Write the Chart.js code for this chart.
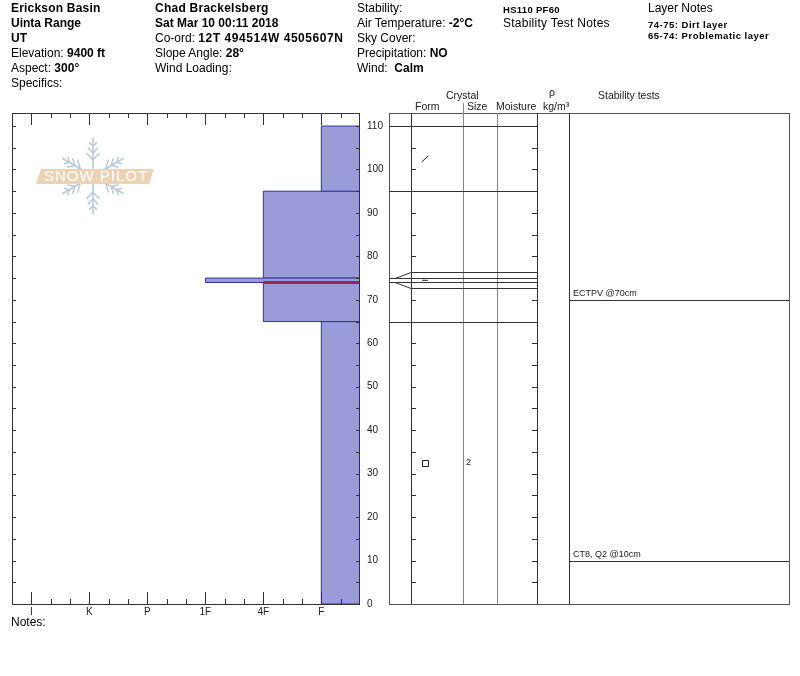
<!DOCTYPE html>
<html>
<head>
<meta charset="utf-8">
<script src="https://cdn.jsdelivr.net/npm/chart.js@4.4.1/dist/chart.umd.min.js"></script>
<style>
body{margin:0;background:#fff;}
#page{position:relative;width:800px;height:676px;overflow:hidden;font-family:"Liberation Sans",Arial,sans-serif;color:#000;}
#page canvas{position:absolute;top:0;}
.t{position:absolute;font-size:12px;line-height:15px;white-space:nowrap;z-index:2;}
.n{position:absolute;font-size:9.5px;line-height:11px;font-weight:bold;letter-spacing:0.5px;white-space:nowrap;z-index:2;}
.h{position:absolute;font-size:10.5px;line-height:12px;white-space:nowrap;color:#222;z-index:2;}
</style>
</head>
<body>
<div id="page">
  <div class="t" style="left:11px;top:1px"><b style="letter-spacing:0.2px">Erickson Basin</b><br><b>Uinta Range</b><br><b>UT</b><br>Elevation: <b>9400 ft</b><br>Aspect: <b>300°</b><br>Specifics:</div>
  <div class="t" style="left:155px;top:1px"><b style="letter-spacing:0.25px">Chad Brackelsberg</b><br><b>Sat Mar 10 00:11 2018</b><br>Co-ord: <b style="letter-spacing:0.55px">12T 494514W 4505607N</b><br>Slope Angle: <b>28°</b><br>Wind Loading:</div>
  <div class="t" style="left:357px;top:1px">Stability:<br>Air Temperature: <b>-2°C</b><br>Sky Cover:<br>Precipitation: <b>NO</b><br>Wind:&nbsp; <b>Calm</b></div>
  <div class="n" style="left:503px;top:4px;letter-spacing:0.3px">HS110 PF60</div>
  <div class="t" style="left:503px;top:16px;letter-spacing:0.25px">Stability Test Notes</div>
  <div class="t" style="left:648px;top:1px">Layer Notes</div>
  <div class="n" style="left:648px;top:19px">74-75: Dirt layer</div>
  <div class="n" style="left:648px;top:30px">65-74: Problematic layer</div>

  <div class="h" style="left:446px;top:89px">Crystal</div>
  <div class="h" style="left:415px;top:100px">Form</div>
  <div class="h" style="left:467px;top:100px">Size</div>
  <div class="h" style="left:496px;top:100px">Moisture</div>
  <div class="h" style="left:549px;top:86px">ρ</div>
  <div class="h" style="left:543px;top:100px">kg/m³</div>
  <div class="h" style="left:598px;top:89px">Stability tests</div>

  <div class="t" style="left:11px;top:615px">Notes:</div>

  <canvas id="hardness" width="400" height="676" style="left:0"></canvas>
  <canvas id="layers" width="420" height="676" style="left:380px"></canvas>
</div>
<script>
// ── Data ─────────────────────────────────────────────────────────────────────
const HARDNESS = ['I','K','P','1F','4F','F'];
const layerTop      = [110, 95, 75, 74, 65];
const layerBottom   = [ 95, 75, 74, 65,  0];
const layerHardness = ['F','4F','1F','4F','F'];
const layerForm     = ['DF','', 'IF','', 'FC'];
const layerSize     = ['', '', '', '', '2'];
const criticalHeight   = 74;
const criticalHardness = '4F';
const testHeights = [70, 10];
const testLabels  = ['ECTPV @70cm', 'CT8, Q2 @10cm'];
const HEIGHT_MAX = 113;

// ── Style ────────────────────────────────────────────────────────────────────
const X_MIN = -1/3, X_MAX = 17/3;
const FILL = '#9b9bd9', EDGE = '#34349c', CRIT = '#a3205c';
const LINE = '#333', GREY = '#888';
const FONT = '"Liberation Sans", Arial, sans-serif';
const hIdx = h => HARDNESS.indexOf(h);
const crisp = v => Math.round(v) + 0.5;

// ── Hardness profile ────────────────────────────────────────────────────────
const layerSets = layerTop.map((top,i)=>{
  const h = hIdx(layerHardness[i]), b = layerBottom[i];
  return {
    data:[{x:h,y:b},{x:h,y:top},{x:X_MAX,y:top},{x:X_MAX,y:b},{x:h,y:b}],
    showLine:true, fill:'shape', backgroundColor:FILL, borderColor:EDGE, borderWidth:1,
    pointRadius:0, tension:0, order:(top-b)<3?0:1,
  };
});
const critSet = {
  data:[{x:hIdx(criticalHardness),y:criticalHeight},{x:X_MAX,y:criticalHeight}],
  showLine:true, fill:false, borderColor:CRIT, borderWidth:3, pointRadius:0, order:-1,
};

// SnowPilot watermark
function drawLogo(ctx){
  const cx=93, cy=176;
  ctx.save();
  ctx.strokeStyle='#bac9d5'; ctx.lineWidth=1.5; ctx.lineCap='round';
  for (let a=0;a<6;a++){
    const ang = Math.PI/2 + a*Math.PI/3, R = a%3===0?38:35;
    const ux=Math.cos(ang), uy=-Math.sin(ang);
    ctx.beginPath(); ctx.moveTo(cx+ux*8,cy+uy*8); ctx.lineTo(cx+ux*R,cy+uy*R); ctx.stroke();
    [0.42,0.6,0.78].forEach((f,j)=>{
      const px=cx+ux*R*f, py=cy+uy*R*f, L=9-j*2;
      [1,-1].forEach(s=>{
        const a2=ang+s*0.75;
        ctx.beginPath(); ctx.moveTo(px,py); ctx.lineTo(px+Math.cos(a2)*L,py-Math.sin(a2)*L); ctx.stroke();
      });
    });
  }
  ctx.fillStyle='#ecd3b6';
  ctx.beginPath(); ctx.moveTo(41,169); ctx.lineTo(154,169); ctx.lineTo(149,184); ctx.lineTo(36,184); ctx.closePath(); ctx.fill();
  ctx.font='15px '+FONT; ctx.textAlign='center'; ctx.textBaseline='middle';
  ctx.letterSpacing='1px';
  ctx.fillStyle='#ffffff';
  ctx.fillText('SNOW PILOT',96,177);
  ctx.restore();
}

const hardnessFrame = {
  id:'hardnessFrame',
  beforeDatasetsDraw(chart){ drawLogo(chart.ctx); },
  afterDatasetsDraw(chart){
    const {ctx, chartArea:{left,right,top,bottom}, scales:{x,y}} = chart;
    ctx.save();
    ctx.strokeStyle=LINE; ctx.lineWidth=1;
    ctx.strokeRect(crisp(left), crisp(top), Math.round(right-left)-1, Math.round(bottom-top));
    ctx.beginPath();
    y.ticks.forEach(t=>{
      const py=crisp(y.getPixelForValue(t.value));
      ctx.moveTo(left,py); ctx.lineTo(left+4,py);
      ctx.moveTo(right-4,py); ctx.lineTo(right,py);
    });
    x.ticks.forEach(t=>{
      const px=crisp(x.getPixelForValue(t.value));
      const len = Math.round(t.value*3)%3===0 ? 12 : 5;
      ctx.moveTo(px,top); ctx.lineTo(px,top+len);
      ctx.moveTo(px,bottom); ctx.lineTo(px,bottom-len);
    });
    ctx.stroke();
    ctx.restore();
  }
};

new Chart(document.getElementById('hardness'), {
  type:'scatter',
  data:{ datasets:[...layerSets, critSet] },
  options:{
    responsive:false, animation:false, devicePixelRatio:1,
    layout:{ padding:{ left:12, top:113, right:0, bottom:52 } },
    plugins:{ legend:{display:false}, tooltip:{enabled:false} },
    scales:{
      x:{ type:'linear', min:X_MIN, max:X_MAX,
          afterBuildTicks:s=>{ s.ticks=Array.from({length:17},(_,k)=>({value:k/3})); },
          afterFit:s=>{ s.height=20; },
          grid:{display:false, drawTicks:false}, border:{display:false},
          ticks:{ autoSkip:false, maxRotation:0, padding:2, color:'#222', font:{family:FONT,size:10},
                  callback:v=>{ const k=Math.round(v*3); return k%3===0 ? HARDNESS[k/3] : ''; } } },
      y:{ type:'linear', position:'right', min:0, max:HEIGHT_MAX,
          afterFit:s=>{ s.width=40; },
          grid:{display:false, drawTicks:false}, border:{display:false},
          ticks:{ stepSize:5, includeBounds:false, autoSkip:false, padding:7, color:'#222', font:{family:FONT,size:10},
                  callback:v=> v%10===0 ? v : '' } },
    },
  },
  plugins:[hardnessFrame],
});

// ── Layer table ─────────────────────────────────────────────────────────────
const COLS = [0, 22, 74, 108, 148, 180, 400];   // table column offsets (px)
const MIN_LAYER_PX = 16;

function drawSymbol(ctx, form, cx, cy){
  ctx.beginPath();
  if (form==='DF'){ ctx.moveTo(cx-3.5,cy+3.5); ctx.lineTo(cx+3.5,cy-3); }
  else if (form==='IF'){ ctx.moveTo(cx-3,cy); ctx.lineTo(cx+3,cy); }
  else if (form==='FC'){ ctx.rect(Math.round(cx-3)+0.5, Math.round(cy-3)+0.5, 6, 6); }
  ctx.stroke();
}

const layerTable = {
  id:'layerTable',
  afterDraw(chart){
    const {ctx, chartArea:{left,right,top,bottom}, scales:{y}} = chart;
    const X = c => left + COLS[c];
    ctx.save(); ctx.lineWidth=1;

    // display positions (thin layers expanded)
    const disp = layerTop.map((t,i)=>{
      let pt=y.getPixelForValue(t), pb=y.getPixelForValue(layerBottom[i]);
      if (pb-pt < MIN_LAYER_PX){ const c=(pt+pb)/2; pt=c-MIN_LAYER_PX/2; pb=c+MIN_LAYER_PX/2; }
      return {pt,pb};
    });

    // frame and columns
    ctx.strokeStyle='#555';
    ctx.strokeRect(crisp(left), crisp(top), Math.round(right-left), Math.round(bottom-top));
    ctx.beginPath();
    [1,4,5].forEach(c=>{ ctx.moveTo(crisp(X(c)),top); ctx.lineTo(crisp(X(c)),bottom); });
    ctx.strokeStyle=LINE; ctx.stroke();
    ctx.beginPath();
    ctx.moveTo(crisp(X(2)),top-10); ctx.lineTo(crisp(X(2)),bottom);
    ctx.moveTo(crisp(X(3)),top); ctx.lineTo(crisp(X(3)),bottom);
    ctx.strokeStyle=GREY; ctx.stroke();

    // ticks every 5 cm
    ctx.beginPath();
    for (let v=5; v<=110; v+=5){
      const py=crisp(y.getPixelForValue(v));
      ctx.moveTo(X(1),py); ctx.lineTo(X(1)+5,py);
      ctx.moveTo(X(4)-5,py); ctx.lineTo(X(4),py);
    }
    ctx.strokeStyle=LINE; ctx.stroke();

    // layer boundaries
    ctx.beginPath();
    const edges=[];
    layerTop.forEach((t,i)=>{
      edges.push({v:t, p:disp[i].pt});
      if (layerBottom[i]>0) edges.push({v:layerBottom[i], p:disp[i].pb});
    });
    const seen=new Set();
    edges.forEach(e=>{
      const key=e.v+':'+Math.round(e.p); if (seen.has(key)) return; seen.add(key);
      const pa=y.getPixelForValue(e.v);
      if (Math.abs(pa-e.p)>0.5){
        ctx.moveTo(X(0),crisp(pa)); ctx.lineTo(X(0)+6,crisp(pa)); ctx.lineTo(X(1),crisp(e.p));
      } else {
        ctx.moveTo(X(0),crisp(e.p)); ctx.lineTo(X(1),crisp(e.p));
      }
      ctx.moveTo(X(1),crisp(e.p)); ctx.lineTo(X(4),crisp(e.p));
    });
    ctx.stroke();

    // crystal form and size
    ctx.strokeStyle='#222'; ctx.fillStyle='#222';
    ctx.font='9px '+FONT; ctx.textBaseline='middle'; ctx.textAlign='left';
    layerTop.forEach((t,i)=>{
      const cy=(disp[i].pt+disp[i].pb)/2;
      if (layerForm[i]) drawSymbol(ctx, layerForm[i], X(1)+14, cy);
      if (layerSize[i]) ctx.fillText(layerSize[i], X(2)+3, cy);
    });

    // stability tests
    ctx.beginPath();
    testHeights.forEach(h=>{
      const py=crisp(y.getPixelForValue(h));
      ctx.moveTo(X(5),py); ctx.lineTo(X(6),py);
    });
    ctx.strokeStyle=LINE; ctx.stroke();
    ctx.textBaseline='alphabetic';
    testHeights.forEach((h,i)=>{
      ctx.fillText(testLabels[i], X(5)+4, y.getPixelForValue(h)-4);
    });
    ctx.restore();
  }
};

new Chart(document.getElementById('layers'), {
  type:'scatter',
  data:{ datasets:[] },
  options:{
    responsive:false, animation:false, devicePixelRatio:1,
    layout:{ padding:{ left:9, top:113, right:11, bottom:72 } },
    plugins:{ legend:{display:false}, tooltip:{enabled:false} },
    scales:{
      x:{ type:'linear', display:false, min:0, max:400 },
      y:{ type:'linear', display:false, min:0, max:HEIGHT_MAX },
    },
  },
  plugins:[layerTable],
});
</script>
</body>
</html>
